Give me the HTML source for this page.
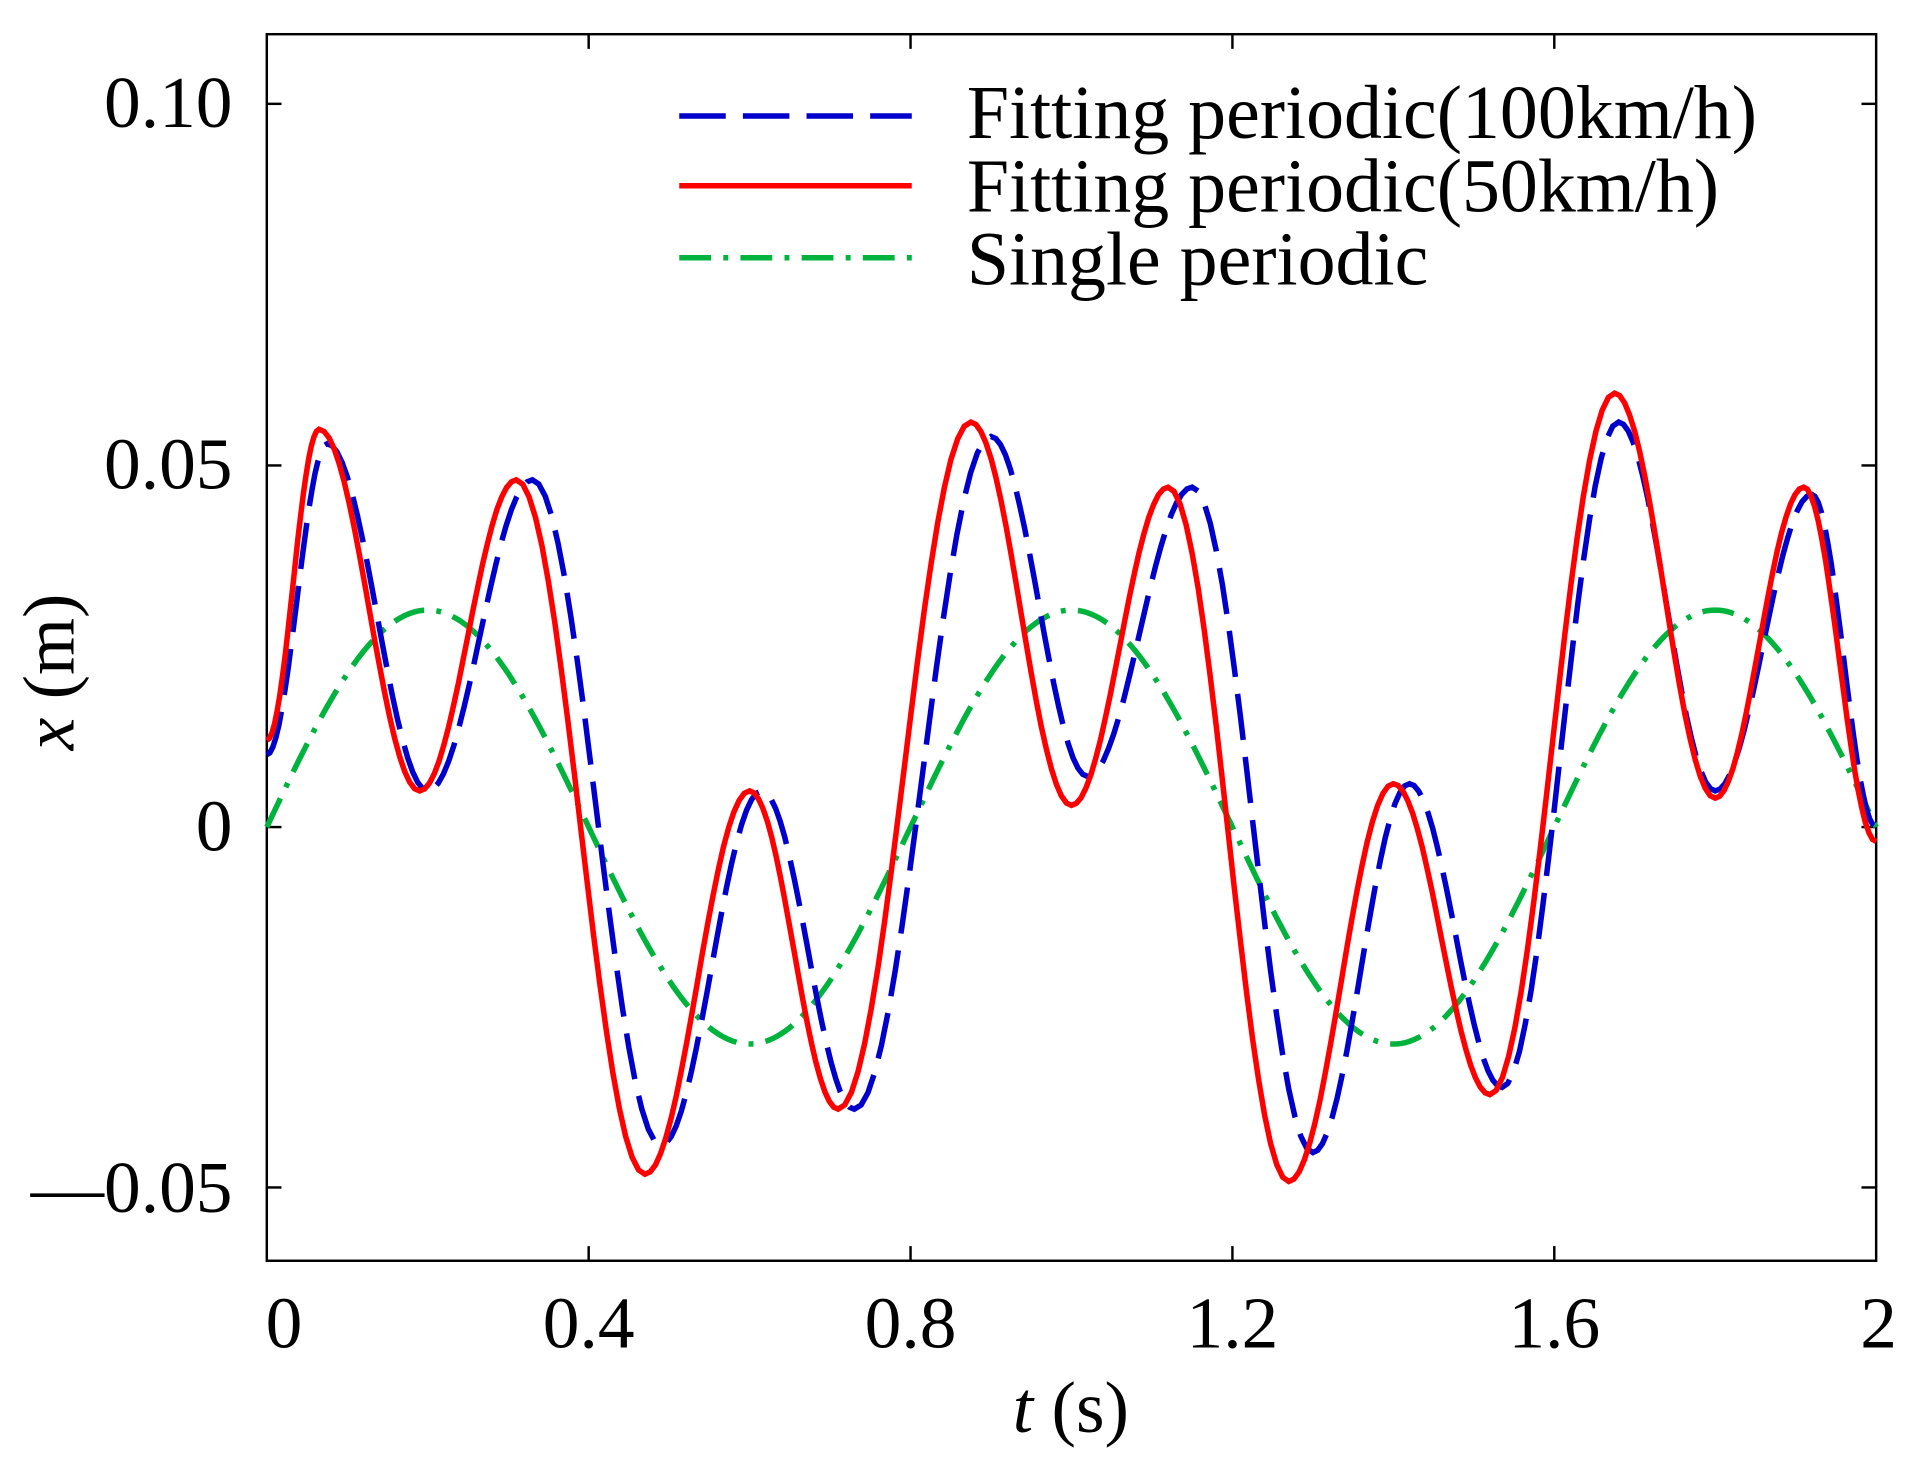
<!DOCTYPE html>
<html><head><meta charset="utf-8"><style>
html,body{margin:0;padding:0;background:#fff;}
svg{display:block;}
text{font-family:"Liberation Serif",serif;fill:#000;}
</style></head><body>
<svg id="s" width="1919" height="1466" viewBox="0 0 1568 1200" preserveAspectRatio="none" xmlns="http://www.w3.org/2000/svg">
<rect x="218" y="28" width="1315" height="1004" fill="none" stroke="#000" stroke-width="2"/>
<g stroke="#000" stroke-width="2">
<line x1="218" y1="85" x2="230" y2="85"/><line x1="1533" y1="85" x2="1521" y2="85"/>
<line x1="218" y1="381" x2="230" y2="381"/><line x1="1533" y1="381" x2="1521" y2="381"/>
<line x1="218" y1="677" x2="230" y2="677"/><line x1="1533" y1="677" x2="1521" y2="677"/>
<line x1="218" y1="972" x2="230" y2="972"/><line x1="1533" y1="972" x2="1521" y2="972"/>
<line x1="481" y1="1032" x2="481" y2="1020"/><line x1="481" y1="28" x2="481" y2="40"/>
<line x1="744" y1="1032" x2="744" y2="1020"/><line x1="744" y1="28" x2="744" y2="40"/>
<line x1="1007" y1="1032" x2="1007" y2="1020"/><line x1="1007" y1="28" x2="1007" y2="40"/>
<line x1="1270" y1="1032" x2="1270" y2="1020"/><line x1="1270" y1="28" x2="1270" y2="40"/>
</g>
<g font-size="60" text-anchor="end">
<text x="190" y="104">0.10</text>
<text x="190" y="400">0.05</text>
<text x="190" y="696">0</text>
<text x="190" y="992">—0.05</text>
</g>
<g font-size="60" text-anchor="middle">
<text x="232" y="1103">0</text>
<text x="481" y="1103">0.4</text>
<text x="744" y="1103">0.8</text>
<text x="1007" y="1103">1.2</text>
<text x="1270" y="1103">1.6</text>
<text x="1535" y="1103">2</text>
<text x="875" y="1172" font-size="60"><tspan font-style="italic">t</tspan> (s)</text>
</g>
<text transform="translate(60,550) rotate(-90)" font-size="60" text-anchor="middle"><tspan font-style="italic">x</tspan> (m)</text>
<path id="g" fill="none" stroke="#00b33c" stroke-width="4.5" stroke-dasharray="26,10,4,10"/>
<path id="b" fill="none" stroke="#0000cc" stroke-width="4.5" stroke-dasharray="38,14"/>
<path id="r" fill="none" stroke="#ff0000" stroke-width="4.5"/>
<line x1="555" y1="95" x2="745" y2="95" stroke="#0000cc" stroke-width="4.5" stroke-dasharray="38,14"/>
<line x1="555" y1="152" x2="745" y2="152" stroke="#ff0000" stroke-width="4.5"/>
<line x1="555" y1="211" x2="745" y2="211" stroke="#00b33c" stroke-width="4.5" stroke-dasharray="26,10,4,10"/>
<g font-size="62">
<text x="790" y="113">Fitting periodic(100km/h)</text>
<text x="790" y="173">Fitting periodic(50km/h)</text>
<text x="790" y="233">Single periodic</text>
</g>
</svg>
<script>
function X(t){return 218+t*657.5;}function Y(x){return 677-x*5920;}
function path(pts){var d="";for(var i=0;i<pts.length-1;i++){var a=pts[i],b=pts[i+1];for(var k=0;k<=20;k++){if(i>0&&k==0)continue;var s=k/20;var t=a[0]+(b[0]-a[0])*s;var x=a[1]+(b[1]-a[1])*(1-Math.cos(Math.PI*s))/2;d+=(d?"L":"M")+X(t).toFixed(1)+","+Y(x).toFixed(1);}}return d;}
var red=[[0,0.012],[0.065,0.055],[0.19,0.005],[0.31,0.048],[0.47,-0.048],[0.6,0.005],[0.71,-0.039],[0.875,0.056],[1.0,0.003],[1.12,0.047],[1.27,-0.049],[1.4,0.006],[1.52,-0.037],[1.675,0.060],[1.8,0.004],[1.91,0.047],[2.0,-0.002]];
var blue=[[0,0.01],[0.075,0.053],[0.2,0.005],[0.33,0.048],[0.49,-0.044],[0.615,0.005],[0.73,-0.039],[0.9,0.054],[1.02,0.007],[1.15,0.047],[1.3,-0.045],[1.42,0.006],[1.535,-0.036],[1.68,0.056],[1.8,0.005],[1.92,0.046],[2.0,0.0]];
document.getElementById("r").setAttribute("d",path(red));
document.getElementById("b").setAttribute("d",path(blue));
var d="";for(var i=0;i<=400;i++){var t=i/200;d+=(i?"L":"M")+X(t).toFixed(1)+","+Y(0.03*Math.sin(2*Math.PI*t/0.8)).toFixed(1);}
document.getElementById("g").setAttribute("d",d);
</script>
</body></html>
